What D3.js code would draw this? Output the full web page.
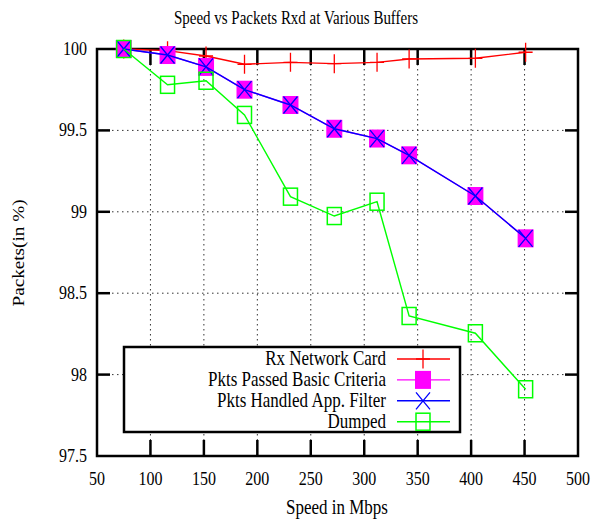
<!DOCTYPE html>
<html>
<head>
<meta charset="utf-8">
<script src="https://cdn.jsdelivr.net/npm/d3@7"></script>
<style>
  body { margin: 0; background: #fff; }
  text { font-family: "Liberation Serif", "Times New Roman", serif; fill: #000; }
</style>
</head>
<body>
<svg id="chart" width="595" height="520"></svg>
<script>
// data
var speeds = [75, 116, 152, 188, 231, 272, 312, 342, 404, 451];
var rxCard = [100, 99.99, 99.957, 99.906, 99.918, 99.91, 99.918, 99.939, 99.943, 99.98];
var passed = [100, 99.963, 99.89, 99.75, 99.656, 99.51, 99.45, 99.347, 99.097, 98.837];
var handled = [100, 99.963, 99.89, 99.75, 99.656, 99.51, 99.45, 99.347, 99.097, 98.837];
var dumped = [100, 99.78, 99.805, 99.595, 99.093, 98.974, 99.062, 98.36, 98.254, 97.91];
var xTicks = [50, 100, 150, 200, 250, 300, 350, 400, 450, 500];
var yTicks = [97.5, 98, 98.5, 99, 99.5, 100];
var seriesNames = ["Rx Network Card", "Pkts Passed Basic Criteria", "Pkts Handled App. Filter", "Dumped"];

var svg = d3.select("#chart");
var L = 97, R = 578, T = 49, B = 456;
var x = d3.scaleLinear().domain([50, 500]).range([L, R]);
var y = d3.scaleLinear().domain([97.5, 100]).range([B, T]);
var SY = 1.2; // the picture is a bit stretched vertically

function label(px, py, str, size, anchor, rot) {
  var t = "translate(" + px + "," + py + ")" + (rot ? " rotate(" + rot + ")" : "") +
          (rot ? " scale(" + SY + ",1)" : " scale(1," + SY + ")");
  return svg.append("text").attr("transform", t)
    .attr("text-anchor", anchor).style("font-size", size + "px").text(str);
}

// grid
var grid = svg.append("g").attr("stroke", "#333").attr("stroke-width", 1)
  .attr("stroke-dasharray", "1.5,3.5");
grid.selectAll(".gx").data(xTicks.slice(1, -1)).enter().append("line")
  .attr("x1", function(d) { return x(d); }).attr("x2", function(d) { return x(d); })
  .attr("y1", T).attr("y2", B);
grid.selectAll(".gy").data(yTicks.slice(1, -1)).enter().append("line")
  .attr("x1", L).attr("x2", R)
  .attr("y1", function(d) { return y(d); }).attr("y2", function(d) { return y(d); });

// legend box (white, hides grid)
var lg = { x0: 124, x1: 460, y0: 347, y1: 432 };
svg.append("rect").attr("x", lg.x0).attr("y", lg.y0)
  .attr("width", lg.x1 - lg.x0).attr("height", lg.y1 - lg.y0)
  .attr("fill", "#fff").attr("stroke", "#000").attr("stroke-width", 2.5);

// ticks on all four sides
var tk = svg.append("g").attr("stroke", "#000").attr("stroke-width", 2.5);
xTicks.slice(1, -1).forEach(function(d) {
  tk.append("line").attr("x1", x(d)).attr("x2", x(d)).attr("y1", B).attr("y2", B - 16);
  tk.append("line").attr("x1", x(d)).attr("x2", x(d)).attr("y1", T).attr("y2", T + 16);
});
yTicks.slice(1, -1).forEach(function(d) {
  tk.append("line").attr("x1", L).attr("x2", L + 13).attr("y1", y(d)).attr("y2", y(d));
  tk.append("line").attr("x1", R).attr("x2", R - 13).attr("y1", y(d)).attr("y2", y(d));
});

// border
svg.append("rect").attr("x", L).attr("y", T).attr("width", R - L).attr("height", B - T)
  .attr("fill", "none").attr("stroke", "#000").attr("stroke-width", 2.5);

// tick labels
xTicks.forEach(function(d) { label(x(d), 485, d, 16, "middle"); });
yTicks.forEach(function(d) { label(87, y(d) + 6, d, 16, "end"); });

// titles
label(296, 24, "Speed vs Packets Rxd at Various Buffers", 15, "middle");
label(337, 514, "Speed in Mbps", 17, "middle");
label(24, 253, "Packets(in %)", 16, "middle", -90);

// markers
var MW = 7, MH = 8.5;
function marker(g, kind, cx, cy, color) {
  if (kind === "plus") {
    g.append("path").attr("d", "M" + (cx - MW) + "," + cy + "H" + (cx + MW) +
      "M" + cx + "," + (cy - MH - 1) + "V" + (cy + MH + 1))
      .attr("stroke", color).attr("stroke-width", 1.3).attr("fill", "none");
  } else if (kind === "cross") {
    g.append("path").attr("d", "M" + (cx - MW) + "," + (cy - MH) + "L" + (cx + MW) + "," + (cy + MH) +
      "M" + (cx - MW) + "," + (cy + MH) + "L" + (cx + MW) + "," + (cy - MH))
      .attr("stroke", color).attr("stroke-width", 1.3).attr("fill", "none");
  } else if (kind === "fsquare") {
    g.append("rect").attr("x", cx - MW - 1).attr("y", cy - MH - 0.5)
      .attr("width", 2 * MW + 2).attr("height", 2 * MH + 1).attr("fill", color);
  } else {
    g.append("rect").attr("x", cx - MW).attr("y", cy - MH)
      .attr("width", 2 * MW).attr("height", 2 * MH)
      .attr("fill", "none").attr("stroke", color).attr("stroke-width", 1.5);
  }
}

var series = [
  { vals: rxCard, color: "#ff0000", kind: "plus" },
  { vals: passed, color: "#ff00ff", kind: "fsquare" },
  { vals: handled, color: "#0000ff", kind: "cross" },
  { vals: dumped, color: "#00ff00", kind: "square" }
];

var line = d3.line().x(function(d) { return x(d[0]); }).y(function(d) { return y(d[1]); });

series.forEach(function(s, i) {
  var g = svg.append("g");
  var pts = d3.zip(speeds, s.vals);
  g.append("path").attr("d", line(pts)).attr("fill", "none")
    .attr("stroke", s.color).attr("stroke-width", 1.4);
  pts.forEach(function(p) { marker(g, s.kind, x(p[0]), y(p[1]), s.color); });

  // legend entry
  var ly = 359 + i * 20.9;
  label(386, ly + 6, seriesNames[i], 17, "end");
  g.append("line").attr("x1", 397).attr("x2", 450).attr("y1", ly).attr("y2", ly)
    .attr("stroke", s.color).attr("stroke-width", 1.4);
  marker(g, s.kind, 423, ly, s.color);
});
</script>
</body>
</html>
